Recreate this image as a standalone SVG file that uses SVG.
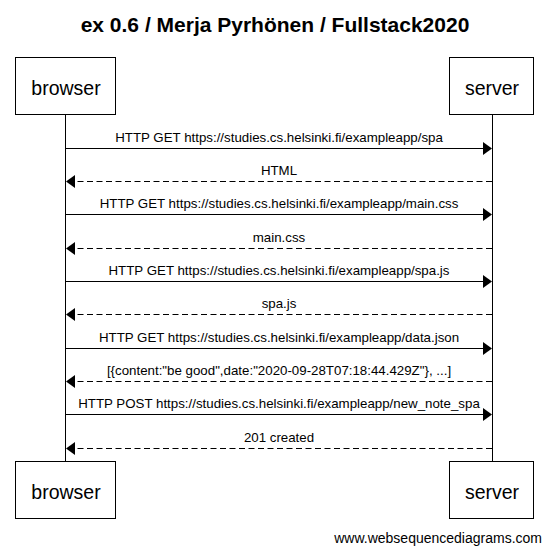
<svg xmlns="http://www.w3.org/2000/svg" width="550" height="552" viewBox="0 0 550 552">
<defs>
<style>
.box{fill:#fff;stroke:#000;stroke-width:1}
.pt{font-family:"Liberation Sans",Arial,sans-serif;font-size:19.5px;text-anchor:middle;fill:#000}
.lbl{font-family:"Liberation Sans",Arial,sans-serif;font-size:13.3px;text-anchor:middle;fill:#000}
.life{stroke:#000;stroke-width:1}
.msg{stroke:#000;stroke-width:1;fill:none;marker-end:url(#ah)}
.ret{stroke-dasharray:6,3.5}
</style>
<marker id="ah" markerUnits="userSpaceOnUse" markerWidth="10" markerHeight="14" refX="0" refY="6.5" orient="auto" overflow="visible">
<path d="M0,0 L9,6.5 L0,13 z" fill="#000"/>
</marker>
</defs>
<rect width="550" height="552" fill="#fff"/>
<text x="275" y="32" font-family="'Liberation Sans',Arial,sans-serif" font-size="21" font-weight="bold" text-anchor="middle">ex 0.6 / Merja Pyrhönen / Fullstack2020</text>
<g id="lifelines">
<line class="life" x1="65.5" y1="114" x2="65.5" y2="461"/>
<line class="life" x1="492.5" y1="114" x2="492.5" y2="461"/>
</g>
<g id="browser-top"><rect class="box" x="15.5" y="57.5" width="100" height="57"/><text class="pt" x="66" y="94.5">browser</text></g>
<g id="server-top"><rect class="box" x="449.5" y="57.5" width="84" height="57"/><text class="pt" x="492" y="94.5">server</text></g>
<g id="browser-bottom"><rect class="box" x="15.5" y="461.5" width="100" height="57"/><text class="pt" x="66" y="498.5">browser</text></g>
<g id="server-bottom"><rect class="box" x="449.5" y="461.5" width="84" height="57"/><text class="pt" x="492" y="498.5">server</text></g>
<g id="connectors">
<line class="msg" x1="66" y1="148.5" x2="483" y2="148.5"/>
<text class="lbl" x="279" y="141.5">HTTP GET https://studies.cs.helsinki.fi/exampleapp/spa</text>
<line class="msg ret" x1="492" y1="181.5" x2="75" y2="181.5"/>
<text class="lbl" x="279" y="174.5">HTML</text>
<line class="msg" x1="66" y1="214.5" x2="483" y2="214.5"/>
<text class="lbl" x="279" y="207.5">HTTP GET https://studies.cs.helsinki.fi/exampleapp/main.css</text>
<line class="msg ret" x1="492" y1="248.5" x2="75" y2="248.5"/>
<text class="lbl" x="279" y="241.5">main.css</text>
<line class="msg" x1="66" y1="281.5" x2="483" y2="281.5"/>
<text class="lbl" x="279" y="274.5">HTTP GET https://studies.cs.helsinki.fi/exampleapp/spa.js</text>
<line class="msg ret" x1="492" y1="314.5" x2="75" y2="314.5"/>
<text class="lbl" x="279" y="307.5">spa.js</text>
<line class="msg" x1="66" y1="348.5" x2="483" y2="348.5"/>
<text class="lbl" x="279" y="341.5">HTTP GET https://studies.cs.helsinki.fi/exampleapp/data.json</text>
<line class="msg ret" x1="492" y1="381.5" x2="75" y2="381.5"/>
<text class="lbl" x="279" y="374.5">[{content:"be good",date:"2020-09-28T07:18:44.429Z"}, ...]</text>
<line class="msg" x1="66" y1="414.5" x2="483" y2="414.5"/>
<text class="lbl" x="279" y="407.5">HTTP POST https://studies.cs.helsinki.fi/exampleapp/new_note_spa</text>
<line class="msg ret" x1="492" y1="448.5" x2="75" y2="448.5"/>
<text class="lbl" x="279" y="441.5">201 created</text>
</g>
<text x="542" y="543" font-family="'Liberation Sans',Arial,sans-serif" font-size="14" text-anchor="end">www.websequencediagrams.com</text>
</svg>
